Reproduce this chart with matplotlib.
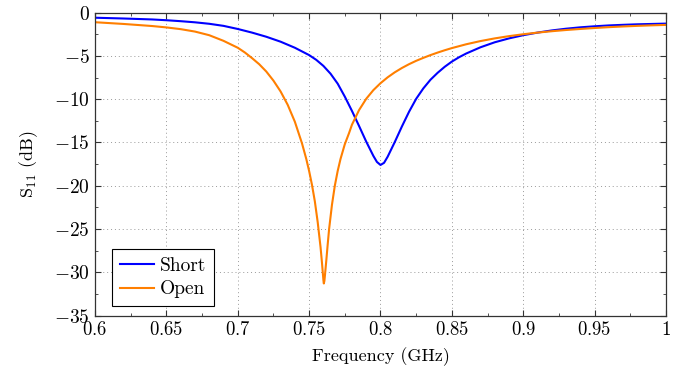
import matplotlib
matplotlib.use("Agg")
import matplotlib.pyplot as plt
from matplotlib.ticker import MultipleLocator, FuncFormatter

plt.rcParams['font.family'] = ['cmr10', 'DejaVu Serif']
plt.rcParams['mathtext.fontset'] = 'cm'
plt.rcParams['axes.formatter.use_mathtext'] = True

# Short (blue) curve
freq_short = [0.600, 0.620, 0.640, 0.650, 0.660, 0.670, 0.680, 0.690, 0.700, 0.710,
              0.720, 0.730, 0.740, 0.750, 0.755, 0.760, 0.765, 0.770, 0.775, 0.780,
              0.785, 0.790, 0.795, 0.7975, 0.800, 0.8025, 0.805, 0.810, 0.815, 0.820,
              0.825, 0.830, 0.835, 0.840, 0.845, 0.850, 0.855, 0.860, 0.870, 0.880,
              0.890, 0.900, 0.910, 0.920, 0.930, 0.940, 0.950, 0.960, 0.970, 0.980,
              0.990, 1.000]
s11_short = [-0.58, -0.67, -0.78, -0.87, -0.98, -1.11, -1.28, -1.52, -1.88, -2.30,
             -2.78, -3.35, -4.05, -4.90, -5.45, -6.15, -7.05, -8.20, -9.70, -11.35,
             -13.10, -14.90, -16.55, -17.25, -17.60, -17.35, -16.65, -14.95, -13.15, -11.45,
             -9.95, -8.75, -7.75, -6.95, -6.25, -5.65, -5.15, -4.72, -4.00, -3.42,
             -2.97, -2.60, -2.30, -2.05, -1.85, -1.69, -1.57, -1.47, -1.40, -1.34,
             -1.30, -1.26]

# Open (orange) curve
freq_open = [0.600, 0.620, 0.640, 0.650, 0.660, 0.670, 0.680, 0.690, 0.700, 0.705,
             0.710, 0.715, 0.720, 0.725, 0.730, 0.735, 0.740, 0.745, 0.748, 0.750,
             0.752, 0.754, 0.756, 0.758, 0.759, 0.7595, 0.760, 0.7603, 0.7607, 0.761,
             0.762, 0.763, 0.764, 0.766, 0.768, 0.770, 0.772, 0.775, 0.778, 0.780,
             0.785, 0.790, 0.795, 0.800, 0.805, 0.810, 0.815, 0.820, 0.825, 0.830,
             0.835, 0.840, 0.845, 0.850, 0.860, 0.870, 0.880, 0.890, 0.900, 0.910,
             0.920, 0.930, 0.940, 0.950, 0.960, 0.970, 0.980, 0.990, 1.000]
s11_open = [-1.10, -1.30, -1.54, -1.70, -1.90, -2.18, -2.60, -3.25, -4.05, -4.60,
            -5.25, -5.95, -6.80, -7.85, -9.10, -10.65, -12.60, -15.10, -16.90, -18.30,
            -19.90, -21.80, -24.20, -27.10, -28.90, -29.90, -30.90, -31.30, -31.00, -30.50,
            -28.70, -26.80, -25.00, -22.20, -20.00, -18.30, -16.90, -15.20, -13.90, -12.95,
            -11.25, -9.95, -8.95, -8.15, -7.47, -6.89, -6.39, -5.95, -5.56, -5.22,
            -4.90, -4.61, -4.34, -4.09, -3.65, -3.28, -2.97, -2.71, -2.49, -2.30,
            -2.14, -2.00, -1.88, -1.77, -1.67, -1.59, -1.52, -1.46, -1.41]

x_ticks = [0.6, 0.65, 0.7, 0.75, 0.8, 0.85, 0.9, 0.95, 1.0]
y_ticks = [0, -5, -10, -15, -20, -25, -30, -35]

fig = plt.figure(figsize=(6.92, 3.77), dpi=100)
ax = fig.add_axes([0.1373, 0.1631, 0.8251, 0.8032])

ax.plot(freq_short, s11_short, color='#0000ff', lw=1.5, label='Short')
ax.plot(freq_open, s11_open, color='#ff7f00', lw=1.5, label='Open')

ax.set_xlim(0.6, 1.0)
ax.set_ylim(-35, 0)
ax.set_xticks(x_ticks)
ax.set_yticks(y_ticks)
ax.xaxis.set_minor_locator(MultipleLocator(0.025))
ax.yaxis.set_minor_locator(MultipleLocator(2.5))

def fmt(v, pos):
    s = '%g' % round(v, 3)
    return r'$%s$' % s

ax.xaxis.set_major_formatter(FuncFormatter(fmt))
ax.yaxis.set_major_formatter(FuncFormatter(fmt))

ax.tick_params(which='both', direction='in', top=True, right=True, labelsize=13.5,
               color='#333333')
ax.tick_params(axis='y', which='major', labelsize=14)
ax.tick_params(which='major', length=4.5, width=0.8, pad=4)
ax.tick_params(which='minor', length=2.5, width=0.6)

ax.grid(True, which='major', linestyle=(0, (1, 3)), color='#999999', lw=0.7)
for sp in ax.spines.values():
    sp.set_linewidth(0.9)
    sp.set_color('#333333')

ax.set_xlabel('Frequency (GHz)', fontsize=13, labelpad=6)
ax.set_ylabel(r'S$_{11}$ (dB)', fontsize=13, labelpad=10)

leg = ax.legend(loc='lower left', bbox_to_anchor=(0.03, 0.031), borderaxespad=0,
                fontsize=14, fancybox=False, framealpha=1, edgecolor='black',
                handlelength=1.75, handletextpad=0.3, borderpad=0.4, labelspacing=0.3)
leg.get_frame().set_linewidth(0.8)

fig.savefig('out.png', dpi=100)
